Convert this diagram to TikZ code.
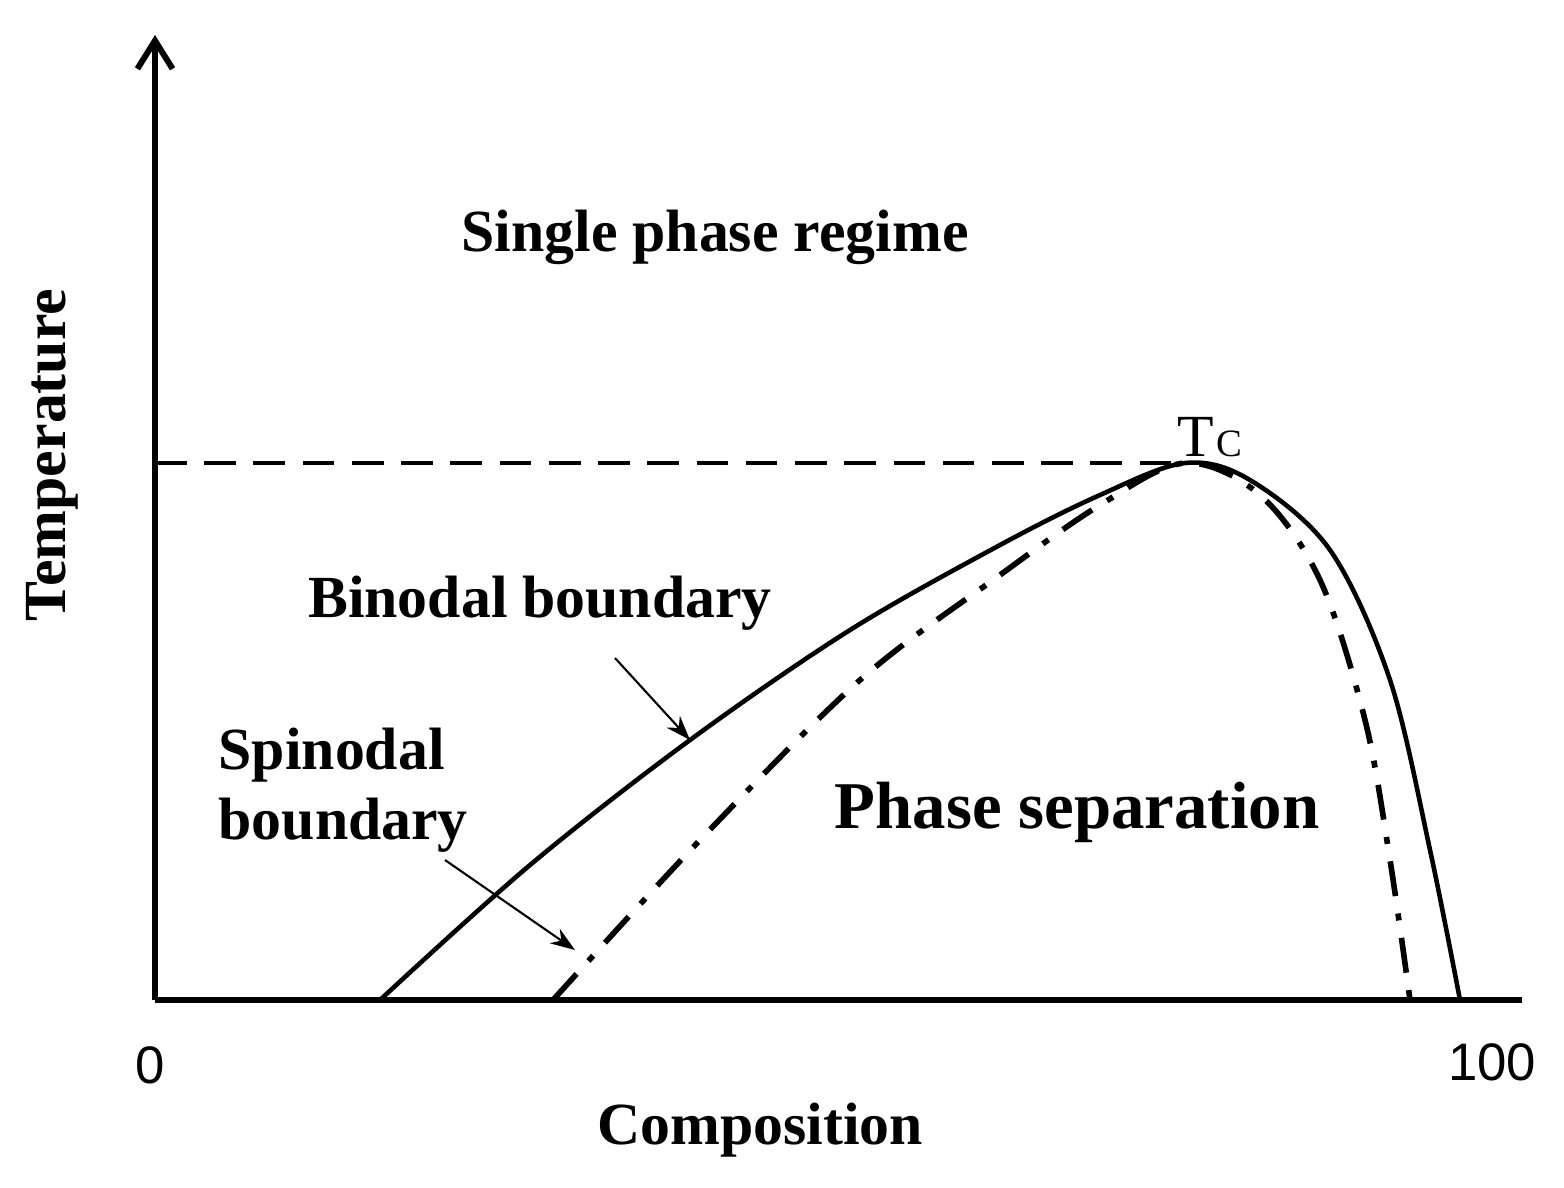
\documentclass[tikz,border=0pt]{standalone}
\usepackage{fontspec}
\usetikzlibrary{arrows.meta}
\setmainfont{Liberation Serif}
\newfontfamily\arialf{Liberation Sans}
\begin{document}
\begin{tikzpicture}[x=0.01cm,y=-0.01cm,
  lbl/.style={font=\fontsize{17}{20}\selectfont\bfseries, inner sep=0},
  thinarrow/.style={-{Stealth[length=7pt,width=5pt]}, line width=0.6pt}]
\useasboundingbox (0,0) rectangle (1564,1187);
\coordinate (o) at (155,1000);
\coordinate (ytop) at (155,35);
\coordinate (xend) at (1522,1000);
\draw[line width=1.7pt, -{Straight Barb[length=8pt,width=10pt]}] (o) -- (ytop);
\draw[line width=1.7pt] (o) -- (xend);
\coordinate (tc) at (1185,463);
\coordinate (tl) at (155,463);
\draw[line width=1.2pt, dash pattern=on 9pt off 5pt] (tl) -- (tc);
\draw[line width=1.3pt] plot[smooth, tension=0.55] coordinates {(380,1000) (530,865) (690,740) (850,630) (1000,545) (1100,495) (1185,463) (1250,480) (1330,550) (1390,680) (1430,850) (1460,1000)};
\draw[line width=1.6pt, dash pattern=on 10pt off 5pt on 2pt off 5pt] plot[smooth, tension=0.55] coordinates {(553,1000) (700,840) (860,680) (1000,575) (1100,505) (1185,463) (1260,495) (1320,580) (1365,720) (1390,860) (1410,1000)};
\node[lbl] (single) at (715,237) {Single phase regime};
\node[lbl] (bin) at (540,603) {Binodal boundary};
\node[lbl, align=left, anchor=north west] (spin) at (218,727) {Spinodal\\boundary};
\node[lbl, font=\fontsize{19}{22}\selectfont\bfseries] (ps) at (1077,812) {Phase separation};
\node[lbl, rotate=90] (temp) at (52,455) {Temperature};
\node[lbl] (comp) at (760,1130) {Composition};
\node[font=\arialf\fontsize{15}{18}\selectfont] (zero) at (150,1065) {0};
\node[font=\arialf\fontsize{15}{18}\selectfont] (hund) at (1492,1062) {100};
\node[font=\fontsize{17}{20}\selectfont, inner sep=0] (tclab) at (1210,437) {T\kern0.5pt{\fontsize{11}{12}\selectfont C}};
\coordinate (ba) at (615,658);
\coordinate (bb) at (690,740);
\coordinate (sa) at (445,860);
\coordinate (sb) at (575,950);
\draw[thinarrow] (ba) -- (bb);
\draw[thinarrow] (sa) -- (sb);
\end{tikzpicture}
\end{document}
